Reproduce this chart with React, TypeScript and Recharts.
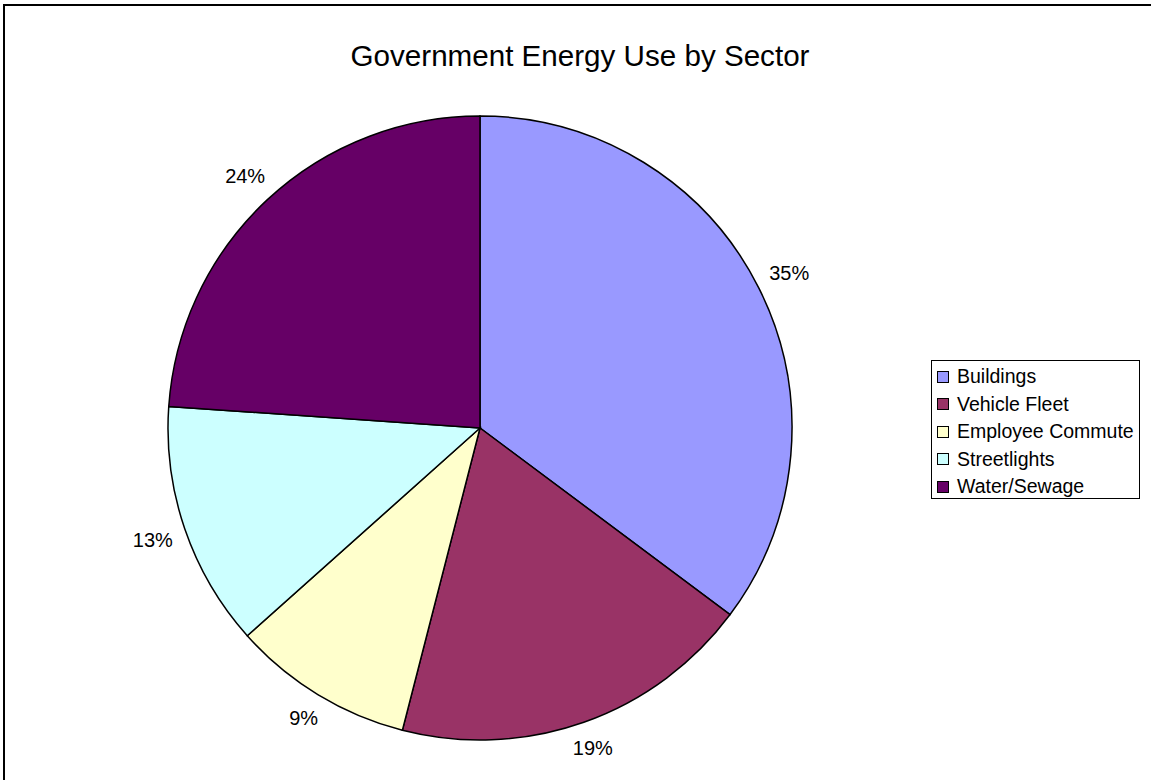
import React from "react";
import { PieChart, Pie, Cell, Legend } from "recharts";

const categories = ["Buildings", "Vehicle Fleet", "Employee Commute", "Streetlights", "Water/Sewage"];
const values = [35.2, 18.8, 9.4, 12.7, 23.9];
const colors = ["#9999FF", "#993366", "#FFFFCC", "#CCFFFF", "#660066"];
const title = "Government Energy Use by Sector";

const data = categories.map((name, i) => ({ name, value: values[i] }));

const FONT = "'Liberation Sans', Arial, sans-serif";
const RAD = Math.PI / 180;
const LABEL_SIZE = 20;

const renderLabel = (props: any) => {
  const { cx, cy, midAngle, outerRadius, percent } = props;
  const txt = `${Math.round(percent * 100)}%`;
  const digits = txt.length - 1;
  const hw = ((digits * 0.556 + 0.889) * LABEL_SIZE) / 2;
  const hh = 9;
  const ux = Math.cos(-midAngle * RAD);
  const uy = Math.sin(-midAngle * RAD);
  const extent = Math.abs(ux) * hw + Math.abs(uy) * hh;
  const r = outerRadius + 12 + extent;
  const x = cx + r * ux;
  const y = cy + r * uy;
  return (
    <text x={x} y={y} textAnchor="middle" dominantBaseline="central" fontSize={LABEL_SIZE} fontFamily={FONT} fill="#000">
      {txt}
    </text>
  );
};

const renderLegend = () => (
  <div
    style={{
      border: "1px solid #000",
      width: 207,
      height: 135,
      boxSizing: "content-box",
      background: "#fff",
      fontFamily: FONT,
      fontSize: 19.5,
      paddingTop: 2,
    }}
  >
    {categories.map((name, i) => (
      <div key={name} style={{ display: "flex", alignItems: "center", height: 27.5, whiteSpace: "nowrap" }}>
        <span
          style={{
            display: "inline-block",
            width: 10,
            height: 10,
            marginLeft: 5,
            marginRight: 8,
            background: colors[i],
            border: "1px solid #000",
          }}
        />
        <span>{name}</span>
      </div>
    ))}
  </div>
);

export default function App() {
  return (
    <div style={{ position: "fixed", left: 0, top: 0, width: 1151, height: 780, overflow: "hidden", background: "#fff" }}>
      <div
        style={{
          position: "absolute",
          left: 3,
          top: 4,
          width: 1200,
          height: 820,
          border: "2px solid #000",
        }}
      />
      <svg style={{ position: "absolute", left: 0, top: 0 }} width={1151} height={780}>
        <text x={580} y={66} textAnchor="middle" fontSize={29.6} fontFamily={FONT} fill="#000">
          {title}
        </text>
      </svg>
      <div style={{ position: "absolute", left: 0, top: 0 }}>
        <PieChart width={1151} height={780} margin={{ top: 0, right: 0, bottom: 0, left: 0 }}>
          <Pie
            data={data}
            dataKey="value"
            nameKey="name"
            cx={480}
            cy={428}
            outerRadius={312}
            startAngle={90}
            endAngle={-270}
            stroke="#000"
            strokeWidth={1.5}
            label={renderLabel}
            labelLine={false}
            isAnimationActive={false}
          >
            {data.map((d, i) => (
              <Cell key={d.name} fill={colors[i]} />
            ))}
          </Pie>
          <Legend
            content={renderLegend}
            wrapperStyle={{ position: "absolute", left: 931, top: 360, width: 209 }}
          />
        </PieChart>
      </div>
    </div>
  );
}
